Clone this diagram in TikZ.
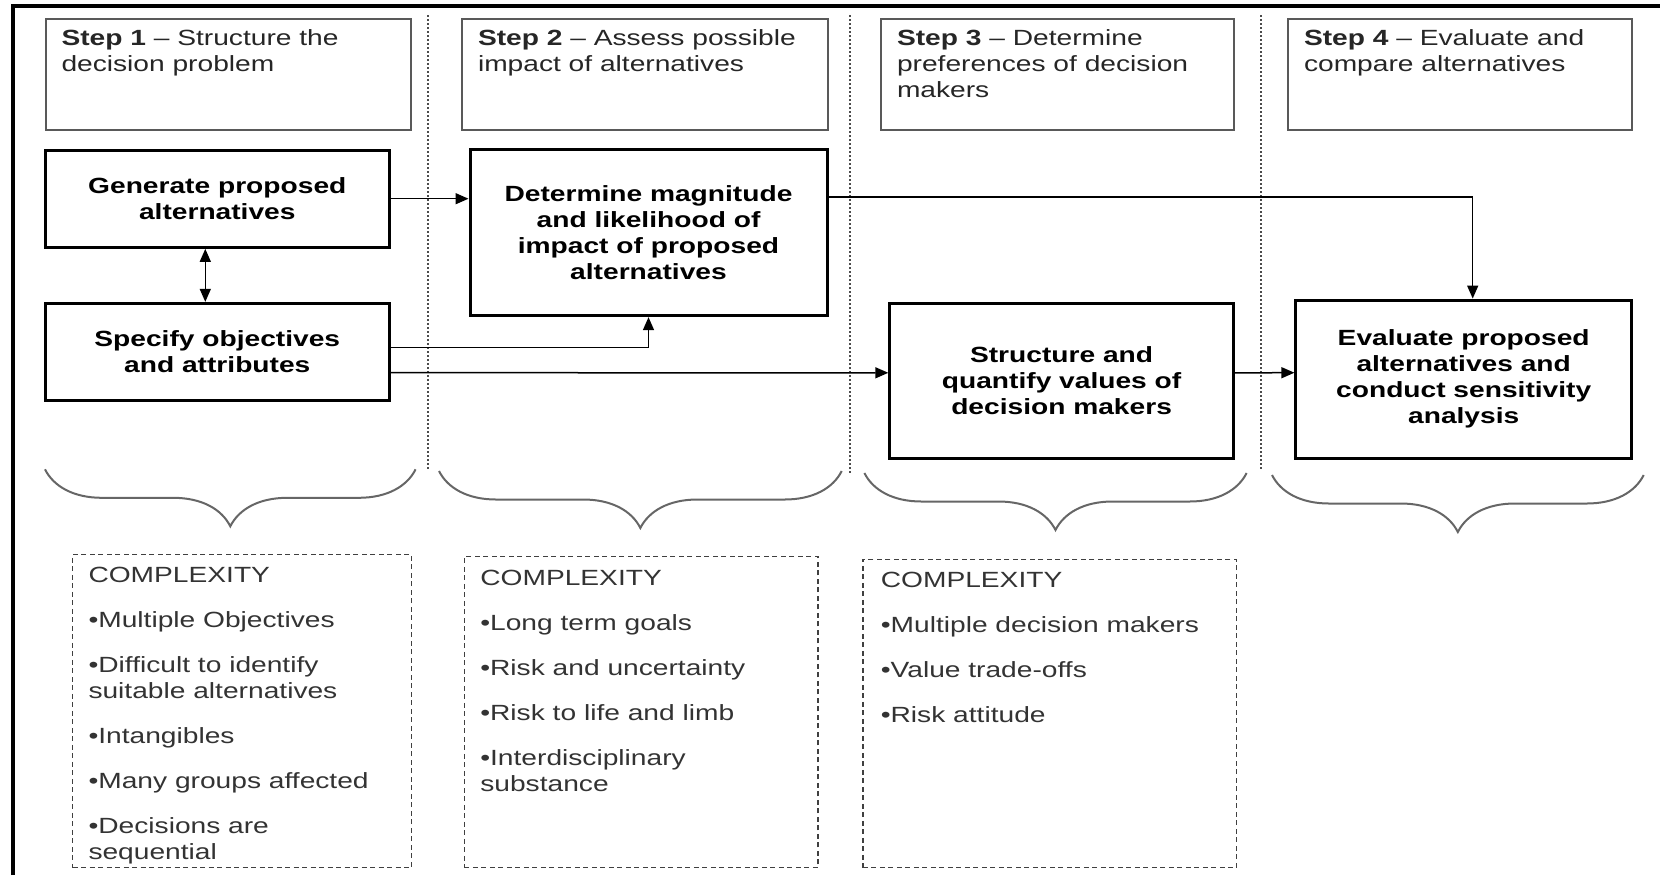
\documentclass[tikz,border=0pt]{standalone}
\usepackage{fontspec}
\setmainfont{Liberation Sans}[FakeStretch=1.28]
\usetikzlibrary{calc,arrows.meta,decorations.pathreplacing}

\tikzset{
  every node/.style={font=\fontsize{11}{13}\selectfont},
  hdrbox/.style={draw=black!65, line width=1pt, anchor=north west, outer sep=0pt,
    inner xsep=8pt, inner ysep=5.5pt, text=black!85},
  mainbox/.style={draw, line width=1.5pt, align=center, inner sep=0pt,
    font=\fontsize{11}{13}\selectfont\bfseries},
  cpxbox/.style={draw=black!75, line width=0.75pt, dash pattern=on 2.5pt off 1.75pt,
    anchor=north west, outer sep=0pt, inner xsep=8pt, inner ysep=6.5pt, text=black!80},
  conn/.style={line width=0.75pt, -{Triangle[length=6.5pt,width=5.5pt]}},
  conntwo/.style={line width=0.75pt, {Triangle[length=6.5pt,width=5.5pt]}-{Triangle[length=6.5pt,width=5.5pt]}},
  divider/.style={draw=black!70, line width=1pt, densely dotted},
  curly/.style={draw=black!60, line width=1pt, decorate,
    decoration={brace, mirror, amplitude=28.5pt}},
}

\begin{document}
\begin{tikzpicture}[x=0.5pt, y=-0.5pt]
\useasboundingbox (0,0) rectangle (1660,875);

% frame
\draw[line width=2pt] (12.5,875) -- (12.5,6.3) -- (1660,6.3);

% column dividers
\draw[divider] (428,15) -- (428,469) (850,15) -- (850,473) (1261,15) -- (1261,469);

% step headers
\node[hdrbox] (hdr1) at (45.5,19) {\parbox[t][44.5pt][t]{166.75pt}{\raggedright
  \textbf{Step 1} -- Structure the\\decision problem}};
\node[hdrbox] (hdr2) at (462,19) {\parbox[t][44.5pt][t]{167pt}{\raggedright
  \textbf{Step 2} -- Assess possible\\impact of alternatives}};
\node[hdrbox] (hdr3) at (881,19) {\parbox[t][44.5pt][t]{160.5pt}{\raggedright
  \textbf{Step 3} -- Determine\\preferences of decision\\makers}};
\node[hdrbox] (hdr4) at (1288,19) {\parbox[t][44.5pt][t]{155.75pt}{\raggedright
  \textbf{Step 4} -- Evaluate and\\compare alternatives}};

% process boxes
\node[mainbox, minimum width=172.3pt, minimum height=48.65pt] (gen) at (217.3,198.7)
  {Generate proposed\\alternatives};
\node[mainbox, minimum width=172.3pt, minimum height=48.35pt] (spec) at (217.3,351.7)
  {Specify objectives\\and attributes};
\node[mainbox, minimum width=178.5pt, minimum height=82.85pt] (det) at (648.5,232.8)
  {Determine magnitude\\and likelihood of\\impact of proposed\\alternatives};
\node[mainbox, minimum width=171.8pt, minimum height=77.5pt] (struct) at (1061.6,380.8)
  {Structure and\\quantify values of\\decision makers};
\node[mainbox, minimum width=167.8pt, minimum height=79.15pt] (eval) at (1463.7,379.2)
  {Evaluate proposed\\alternatives and\\conduct sensitivity\\analysis};

% connectors
\draw[conn] (gen.east) -- (gen.east -| det.west);
\draw[conntwo] ($(gen.south)+(-12,0)$) -- ($(spec.north)+(-12,0)$);
\draw[conn] ($(spec.east)+(0,-4.4)$) -| (det.south);
\draw[conn] ($(spec.east)+(0,21)$) -- ($(struct.west)+(0,-8)$);
\draw[conn] ($(struct.east)+(0,-8)$) -- ($(eval.west)+(0,-6.5)$);
\draw[conn] ($(det.east)+(0,-36)$) -| ($(eval.north)+(9,0)$);

% braces
\draw[curly] (45,469.3) -- (415.6,469.3);
\draw[curly] (439,471) -- (841.7,471);
\draw[curly] (864.4,473) -- (1246.6,473);
\draw[curly] (1272,475) -- (1643.7,475);

% complexity boxes
\node[cpxbox] (cpx1) at (72.5,554.3) {\parbox[t][143.7pt][t]{153.4pt}{\raggedright
  COMPLEXITY\\[9.5pt]
  •Multiple Objectives\\[9.5pt]
  •Difficult to identify\\suitable alternatives\\[9.5pt]
  •Intangibles\\[9.5pt]
  •Many groups affected\\[9.5pt]
  •Decisions are\\sequential}};
\node[cpxbox] (cpx2) at (464.3,556.7) {\parbox[t][142.5pt][t]{160.85pt}{\raggedright
  COMPLEXITY\\[9.5pt]
  •Long term goals\\[9.5pt]
  •Risk and uncertainty\\[9.5pt]
  •Risk to life and limb\\[9.5pt]
  •Interdisciplinary\\substance}};
\node[cpxbox, inner xsep=9pt] (cpx3) at (862.8,559.3) {\parbox[t][141.2pt][t]{168.9pt}{\raggedright
  COMPLEXITY\\[9.5pt]
  •Multiple decision makers\\[9.5pt]
  •Value trade-offs\\[9.5pt]
  •Risk attitude}};

\end{tikzpicture}
\end{document}
